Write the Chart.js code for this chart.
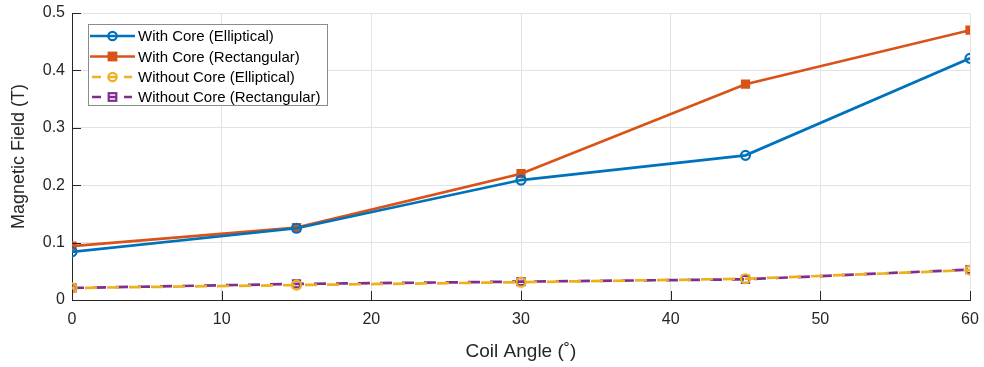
<!DOCTYPE html>
<html>
<head>
<meta charset="utf-8">
<script src="https://cdn.jsdelivr.net/npm/chart.js@4.4.1/dist/chart.umd.min.js"></script>
<style>
  html, body { margin: 0; padding: 0; background: #ffffff; }
  #wrap { width: 984px; height: 367px; position: relative; }
</style>
</head>
<body>
<div id="wrap"><canvas id="c" width="984" height="367"></canvas></div>
<script>
// Coil angle in degrees
const angles = [0, 15, 30, 45, 60];

// Magnetic field (T)
const withCoreElliptical = [0.084, 0.125, 0.209, 0.252, 0.421];
const withCoreRectangular = [0.094, 0.126, 0.220, 0.376, 0.470];
const withoutCoreElliptical = [0.021, 0.026, 0.031, 0.037, 0.052];
const withoutCoreRectangular = [0.021, 0.028, 0.032, 0.036, 0.053];

const seriesNames = [
  'With Core (Elliptical)',
  'With Core (Rectangular)',
  'Without Core (Elliptical)',
  'Without Core (Rectangular)'
];

const xTicks = [0, 10, 20, 30, 40, 50, 60];
const yTicks = [0, 0.1, 0.2, 0.3, 0.4, 0.5];

const FONT = '"Liberation Sans", Arial, Helvetica, sans-serif';
const AXIS = '#262626';
const BLUE = '#0072BD', ORANGE = '#D95319', YELLOW = '#EDB120', PURPLE = '#7E2F8E';

function pts(values) {
  return angles.map((a, i) => ({ x: a, y: values[i] }));
}

const styles = [
  { color: BLUE, marker: 'circle', fill: 'rgba(0,0,0,0)', dash: [], radius: 4.5 },
  { color: ORANGE, marker: 'rect', fill: ORANGE, dash: [], radius: 5 },
  { color: YELLOW, marker: 'circle', fill: 'rgba(0,0,0,0)', dash: [12, 10], offset: 9, radius: 4.5 },
  { color: PURPLE, marker: 'rect', fill: 'rgba(0,0,0,0)', dash: [12, 10], offset: 0, radius: 5 }
];
const seriesValues = [withCoreElliptical, withCoreRectangular, withoutCoreElliptical, withoutCoreRectangular];

const datasets = seriesValues.map((vals, i) => ({
  label: seriesNames[i],
  data: pts(vals),
  borderColor: styles[i].color,
  backgroundColor: styles[i].fill,
  borderWidth: 2.7,
  borderDash: styles[i].dash,
  borderDashOffset: styles[i].offset || 0,
  pointStyle: styles[i].marker,
  pointRadius: styles[i].radius,
  pointBorderWidth: 2.2,
  pointBorderColor: styles[i].color,
  pointBackgroundColor: styles[i].fill,
  tension: 0,
  fill: false
}));

// Short tick marks drawn inward from the axes, plus the boxed legend
const axisDecor = {
  id: 'axisDecor',
  afterDatasetsDraw(chart) {
    const ctx = chart.ctx;
    const xs = chart.scales.x, ys = chart.scales.y;
    const area = chart.chartArea;
    ctx.save();
    ctx.strokeStyle = AXIS;
    ctx.lineWidth = 1;
    ctx.beginPath();
    xTicks.forEach(v => {
      const px = Math.round(xs.getPixelForValue(v)) + 0.5;
      ctx.moveTo(px, area.bottom);
      ctx.lineTo(px, area.bottom - 9);
    });
    yTicks.forEach(v => {
      const py = Math.round(ys.getPixelForValue(v)) + 0.5;
      ctx.moveTo(area.left, py);
      ctx.lineTo(area.left + 9, py);
    });
    ctx.stroke();

    // legend box
    const bx = 88.5, by = 24.5, bw = 239, bh = 81;
    ctx.fillStyle = '#ffffff';
    ctx.fillRect(bx, by, bw, bh);
    ctx.strokeStyle = '#8c8c8c';
    ctx.lineWidth = 1;
    ctx.strokeRect(bx, by, bw, bh);

    const rowY = [36, 56.5, 77, 97];
    chart.data.datasets.forEach((ds, i) => {
      const y = rowY[i];
      const st = styles[i];
      ctx.strokeStyle = st.color;
      ctx.lineWidth = 2.7;
      ctx.setLineDash(st.dash.length ? [9, 7] : []);
      ctx.beginPath();
      ctx.moveTo(st.dash.length ? 92 : 90, y);
      ctx.lineTo(st.dash.length ? 132 : 135, y);
      ctx.stroke();
      ctx.setLineDash([]);
      ctx.lineWidth = 2.2;
      const mx = 112.5;
      if (st.marker === 'circle') {
        ctx.beginPath();
        ctx.arc(mx, y, 4.2, 0, Math.PI * 2);
        ctx.stroke();
      } else {
        const s = 3.8;
        if (st.fill !== 'rgba(0,0,0,0)') {
          ctx.fillStyle = st.color;
          ctx.fillRect(mx - s, y - s, 2 * s, 2 * s);
        }
        ctx.strokeRect(mx - s, y - s, 2 * s, 2 * s);
      }
      ctx.fillStyle = '#000000';
      ctx.font = '15px ' + FONT;
      ctx.textBaseline = 'middle';
      ctx.textAlign = 'left';
      ctx.fillText(ds.label, 138, y + 1);
    });
    ctx.restore();
  }
};

new Chart(document.getElementById('c'), {
  type: 'line',
  data: { datasets },
  plugins: [axisDecor],
  options: {
    responsive: false,
    animation: false,
    devicePixelRatio: 1,
    layout: { padding: { left: 0, top: 13, right: 14, bottom: 0 } },
    plugins: { legend: { display: false }, tooltip: { enabled: false } },
    scales: {
      x: {
        type: 'linear',
        min: 0, max: 60,
        afterBuildTicks(scale) { scale.ticks = xTicks.map(v => ({ value: v })); },
        afterFit(scale) {
          scale.height = 67;
          scale.paddingLeft = 0; scale.paddingRight = 0;
        },
        grid: { color: '#e3e3e3', lineWidth: 1, drawTicks: false },
        border: { display: true, color: AXIS, width: 1 },
        ticks: { color: AXIS, padding: 10, font: { family: FONT, size: 16 }, maxRotation: 0 },
        title: { display: true, text: 'Coil Angle (˚)', color: AXIS, font: { family: FONT, size: 19 }, padding: { top: 0, bottom: 4 } }
      },
      y: {
        type: 'linear',
        min: 0, max: 0.5,
        afterBuildTicks(scale) { scale.ticks = yTicks.map(v => ({ value: v })); },
        afterFit(scale) {
          scale.width = 72;
          scale.paddingTop = 0; scale.paddingBottom = 0;
        },
        grid: { color: '#e3e3e3', lineWidth: 1, drawTicks: false },
        border: { display: true, color: AXIS, width: 1 },
        ticks: { color: AXIS, padding: 7, font: { family: FONT, size: 16 }, callback: v => String(v) },
        title: { display: true, text: 'Magnetic Field (T)', color: AXIS, font: { family: FONT, size: 18 }, padding: { top: 8, bottom: 0 } }
      }
    }
  }
});
</script>
</body>
</html>
